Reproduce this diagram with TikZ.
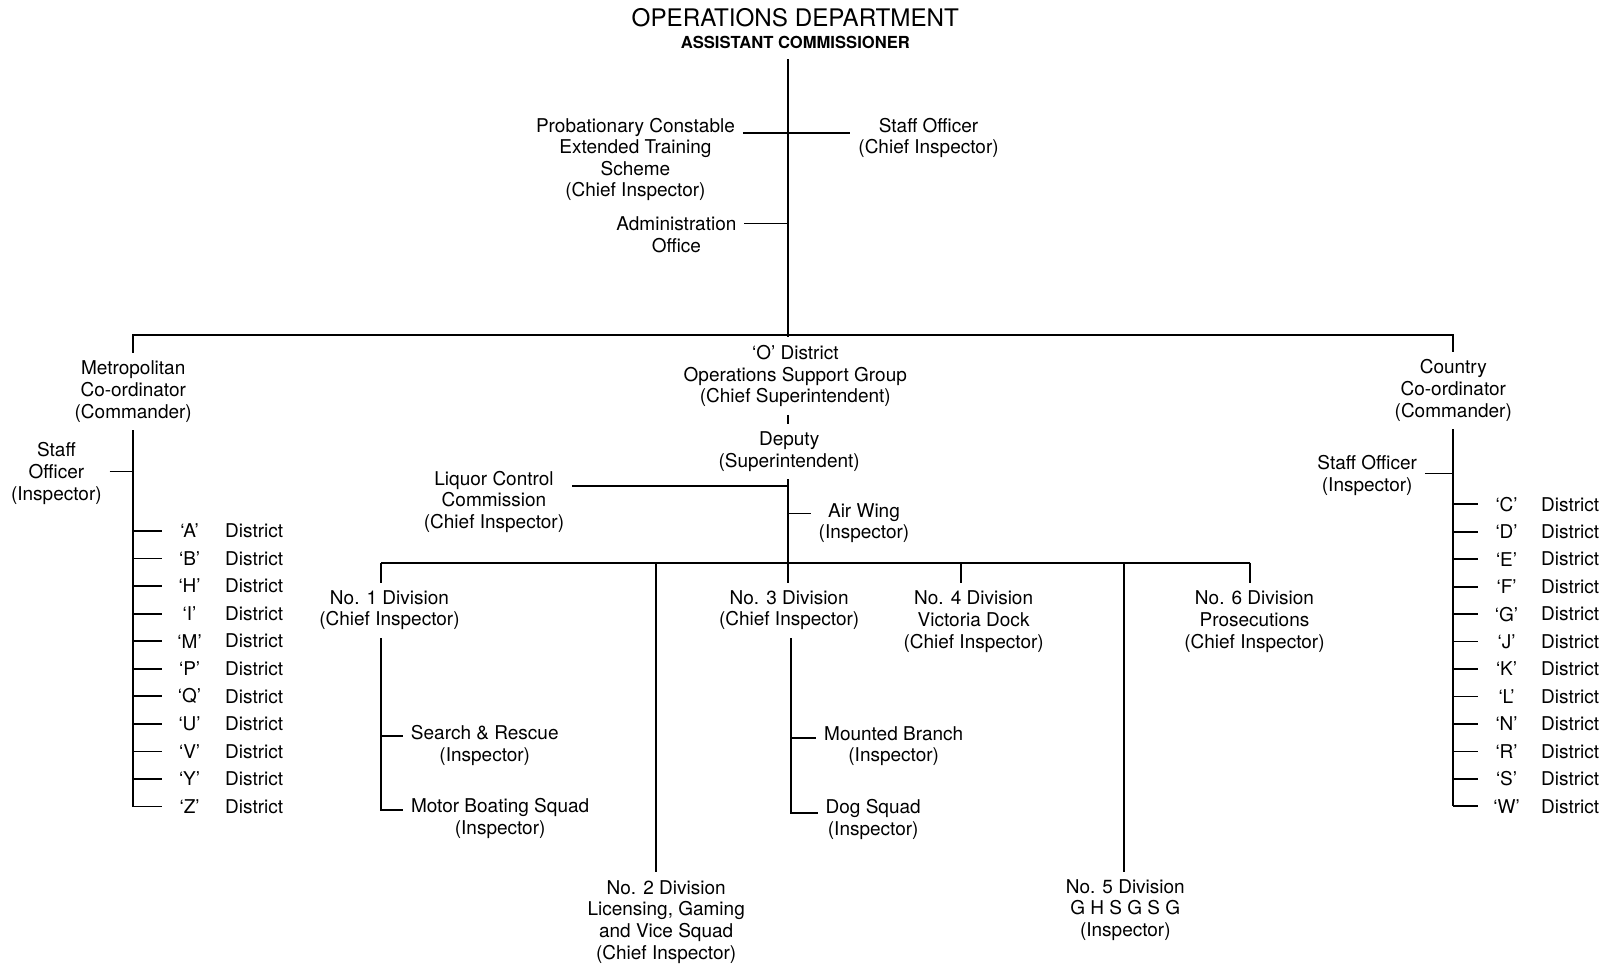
\documentclass[tikz,border=0pt]{standalone}
\usepackage{fontspec}
\setmainfont{TeX Gyre Heros}
\usetikzlibrary{positioning}
\tikzset{
  unit/.style={align=center,inner sep=1pt,outer sep=3pt,font=\fontsize{9.5}{10.8}\selectfont},
  link/.style={black,line width=0.9pt},
}
\begin{document}
\begin{tikzpicture}[x=0.51245pt,y=-0.51245pt]
\useasboundingbox (0,0) rectangle (1568,943);
\node[inner sep=1pt,font=\fontsize{12.1}{14}\selectfont] (dept) at (776,17) {OPERATIONS DEPARTMENT};
\node[inner sep=1pt,font=\bfseries\fontsize{8.3}{10}\selectfont] (asst) at (776,41) {ASSISTANT COMMISSIONER};
\node[unit] (prob) at (620,155.5) {Probationary Constable\\Extended Training\\Scheme\\(Chief Inspector)};
\node[unit] (staff) at (906,134.5) {Staff Officer\\(Chief Inspector)};
\node[unit] (admin) at (660,229) {Administration\\Office};
\node[unit] (metro) at (130,382) {Metropolitan\\Co-ordinator\\(Commander)};
\node[unit] (mstaff) at (55,462) {Staff\\Officer\\(Inspector)};
\node[unit] (odist) at (776,367) {`O' District\\Operations Support Group\\(Chief Superintendent)};
\node[unit] (deputy) at (770,440.5) {Deputy\\(Superintendent)};
\node[unit] (liquor) at (482,489.5) {Liquor Control\\Commission\\(Chief Inspector)};
\node[unit] (air) at (843,510.5) {Air Wing\\(Inspector)};
\node[unit] (div1) at (380,595.5) {No. 1 Division\\(Chief Inspector)};
\node[unit] (div2) at (650,899.5) {No. 2 Division\\Licensing, Gaming\\and Vice Squad\\(Chief Inspector)};
\node[unit] (div3) at (770,595.5) {No. 3 Division\\(Chief Inspector)};
\node[unit] (div4) at (950,606.5) {No. 4 Division\\Victoria Dock\\(Chief Inspector)};
\node[unit] (div5) at (1098,888) {No. 5 Division\\G H S G S G\\(Inspector)};
\node[unit] (div6) at (1224,606.5) {No. 6 Division\\Prosecutions\\(Chief Inspector)};
\node[unit] (search) at (473,727.5) {Search \& Rescue\\(Inspector)};
\node[unit] (motor) at (488,798.5) {Motor Boating Squad\\(Inspector)};
\node[unit] (mounted) at (872,728) {Mounted Branch\\(Inspector)};
\node[unit] (dog) at (852,799.5) {Dog Squad\\(Inspector)};
\node[unit] (country) at (1418,381) {Country\\Co-ordinator\\(Commander)};
\node[unit] (cstaff) at (1334,464) {Staff Officer\\(Inspector)};
\coordinate (hq) at (769,58);
\coordinate (bar) at (769,327);
\coordinate (jprob) at (769,130);
\coordinate (jadmin) at (769,218);
\coordinate (dbar) at (769,549);
\coordinate (jliq) at (769,474);
\coordinate (jair) at (769,501);
\coordinate (d1) at (372,549);
\coordinate (d2) at (640,549);
\coordinate (d4) at (938,549);
\coordinate (d5) at (1097,549);
\coordinate (d6) at (1220,549);
\coordinate (jsr) at (372,718);
\coordinate (jmb) at (372,790);
\coordinate (jmt) at (772,720);
\coordinate (jdog) at (772,793);
\coordinate (jms) at (130,460);
\coordinate (jcs) at (1418,462);
\foreach \dl [count=\i] in {A,B,H,I,M,P,Q,U,V,Y,Z}{
  \pgfmathsetmacro{\yy}{518+26.9*(\i-1)}
  \node[unit] (ml\i) at (185,\yy) {`\dl'};
  \node[unit] (md\i) at (248,\yy) {District};
  \draw[link] (metro.south |- ml\i) -- ++(28,0);
}
\foreach \dl [count=\i] in {C,D,E,F,G,J,K,L,N,R,S,W}{
  \pgfmathsetmacro{\yy}{492+26.8*(\i-1)}
  \node[unit] (cl\i) at (1470,\yy) {`\dl'};
  \node[unit] (cd\i) at (1532,\yy) {District};
  \draw[link] (country.south |- cl\i) -- ++(24,0);
}
\draw[link] (hq) -- (bar);
\draw[link] (prob.east |- jprob) -- (staff.west |- jprob);
\draw[link] (admin.east |- jadmin) -- (jadmin);
\draw[link] (metro.north) |- (bar) -| (country.north);
\draw[link] (bar) -- (odist.north -| bar);
\draw[link] (odist.south -| bar) -- (deputy.north -| bar);
\draw[link] (deputy.south -| bar) -- (dbar);
\draw[link] (liquor.east |- jliq) -- (jliq);
\draw[link] (jair) -- (air.west |- jair);
\draw[link] (d1) -- (d6);
\draw[link] (d1) -- (d1 |- div1.north);
\draw[link] (d2) -- (d2 |- div2.north);
\draw[link] (dbar) -- (dbar |- div3.north);
\draw[link] (d4) -- (d4 |- div4.north);
\draw[link] (d5) -- (d5 |- div5.north);
\draw[link] (d6) -- (d6 |- div6.north);
\draw[link] (d1 |- div1.south) -- (jmb) -- (motor.west |- jmb);
\draw[link] (jsr) -- (search.west |- jsr);
\draw[link] (jmt |- div3.south) -- (jdog) -- (dog.west |- jdog);
\draw[link] (jmt) -- (mounted.west |- jmt);
\draw[link] (metro.south) -- (metro.south |- ml11);
\draw[link] (mstaff.east |- jms) -- (jms);
\draw[link] (country.south) -- (country.south |- cl12);
\draw[link] (cstaff.east |- jcs) -- (jcs);
\end{tikzpicture}
\end{document}
